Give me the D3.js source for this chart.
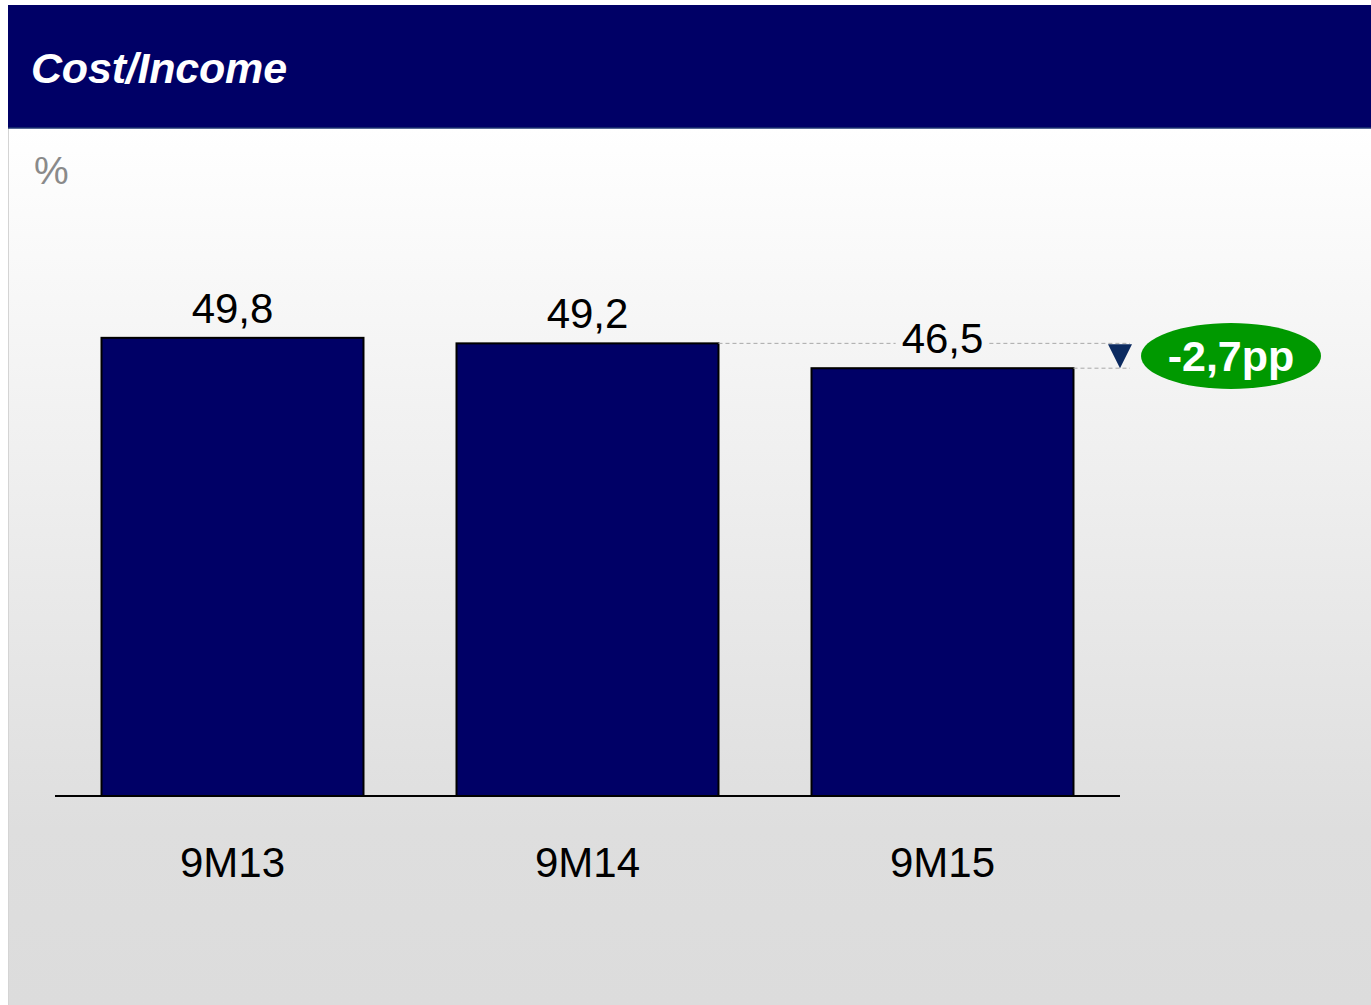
<!DOCTYPE html>
<html>
<head>
<meta charset="utf-8">
<script src="https://cdn.jsdelivr.net/npm/d3@7"></script>
<style>
  html, body { margin: 0; padding: 0; background: #fff; }
  svg { display: block; font-family: "Liberation Sans", Arial, sans-serif; }
</style>
</head>
<body>
<div id="chart"></div>
<script>
// chart data
const categories = ["9M13", "9M14", "9M15"];
const values = [49.8, 49.2, 46.5];
const valueLabels = ["49,8", "49,2", "46,5"];
const deltaLabel = "-2,7pp";

const width = 1371, height = 1005;
const navy = "#000066";

const svg = d3.select("#chart").append("svg")
    .attr("width", width)
    .attr("height", height);

// background gradient of the panel
const defs = svg.append("defs");
const grad = defs.append("linearGradient")
    .attr("id", "bg")
    .attr("x1", 0).attr("y1", 0).attr("x2", 0).attr("y2", 1);
grad.append("stop").attr("offset", "0%").attr("stop-color", "#ffffff");
grad.append("stop").attr("offset", "80%").attr("stop-color", "#dedede");
grad.append("stop").attr("offset", "100%").attr("stop-color", "#dcdcdc");

svg.append("rect")
    .attr("x", 8).attr("y", 128)
    .attr("width", width - 8).attr("height", height - 128)
    .attr("fill", "url(#bg)");
svg.append("line")
    .attr("x1", 8.5).attr("x2", 8.5)
    .attr("y1", 128).attr("y2", height)
    .attr("stroke", "#d4d4d4").attr("stroke-width", 1);

// header bar
svg.append("rect")
    .attr("x", 8).attr("y", 5)
    .attr("width", width - 8).attr("height", 123)
    .attr("fill", navy);
svg.append("line")
    .attr("x1", 8).attr("x2", width)
    .attr("y1", 128).attr("y2", 128)
    .attr("stroke", "#1c3470").attr("stroke-width", 1.5);

svg.append("text")
    .attr("x", 31).attr("y", 83)
    .attr("fill", "#fff")
    .attr("font-size", 43)
    .attr("font-weight", "bold")
    .attr("font-style", "italic")
    .attr("letter-spacing", -0.2)
    .text("Cost/Income");

svg.append("text")
    .attr("x", 34).attr("y", 184)
    .attr("fill", "#8a8a8a")
    .attr("font-size", 39)
    .text("%");

// scales
const x = d3.scaleBand()
    .domain(categories)
    .range([55, 1120])
    .paddingInner(0.262)
    .paddingOuter(0.131);

const y = d3.scaleLinear()
    .domain([0, 50])
    .range([796, 796 - 50 * 9.2]);

// bars
svg.append("g")
    .selectAll("rect")
    .data(values)
    .join("rect")
    .attr("x", (d, i) => x(categories[i]))
    .attr("y", d => y(d))
    .attr("width", x.bandwidth())
    .attr("height", d => y(0) - y(d))
    .attr("fill", navy)
    .attr("stroke", "#000")
    .attr("stroke-width", 2);

// baseline
svg.append("line")
    .attr("x1", 55).attr("x2", 1120)
    .attr("y1", y(0)).attr("y2", y(0))
    .attr("stroke", "#000").attr("stroke-width", 2);

// value labels
const vl = svg.append("g")
    .selectAll("text")
    .data(values)
    .join("text")
    .attr("x", (d, i) => x(categories[i]) + x.bandwidth() / 2)
    .attr("y", d => y(d) - 15)
    .attr("text-anchor", "middle")
    .attr("font-size", 42)
    .attr("fill", "#000")
    .text((d, i) => valueLabels[i]);

// category labels
svg.append("g")
    .selectAll("text")
    .data(categories)
    .join("text")
    .attr("x", d => x(d) + x.bandwidth() / 2)
    .attr("y", 877)
    .attr("text-anchor", "middle")
    .attr("font-size", 42)
    .attr("fill", "#000")
    .text(d => d);

// dashed guide lines from 9M14 and 9M15 tops
const lineEnd = 1130;
const lastLabel = vl.nodes()[2].getBBox();
const dash = svg.append("g")
    .attr("stroke", "#a8a8a8")
    .attr("stroke-width", 1)
    .attr("stroke-dasharray", "4,3");
const y14 = y(values[1]), y15 = y(values[2]);
dash.append("line")
    .attr("x1", x(categories[1]) + x.bandwidth()).attr("x2", lastLabel.x - 6)
    .attr("y1", y14).attr("y2", y14);
dash.append("line")
    .attr("x1", lastLabel.x + lastLabel.width + 6).attr("x2", lineEnd)
    .attr("y1", y14).attr("y2", y14);
dash.append("line")
    .attr("x1", x(categories[2]) + x.bandwidth()).attr("x2", lineEnd)
    .attr("y1", y15).attr("y2", y15);

// down arrow
const ax = 1120;
svg.append("path")
    .attr("d", `M${ax - 12},${y14 + 1}L${ax + 12},${y14 + 1}L${ax},${y15}Z`)
    .attr("fill", "#0b2a60");

// delta bubble
svg.append("ellipse")
    .attr("cx", 1231).attr("cy", 356)
    .attr("rx", 90).attr("ry", 33)
    .attr("fill", "#009900");
svg.append("text")
    .attr("x", 1231).attr("y", 371)
    .attr("text-anchor", "middle")
    .attr("fill", "#fff")
    .attr("font-size", 43)
    .attr("font-weight", "bold")
    .text(deltaLabel);
</script>
</body>
</html>
